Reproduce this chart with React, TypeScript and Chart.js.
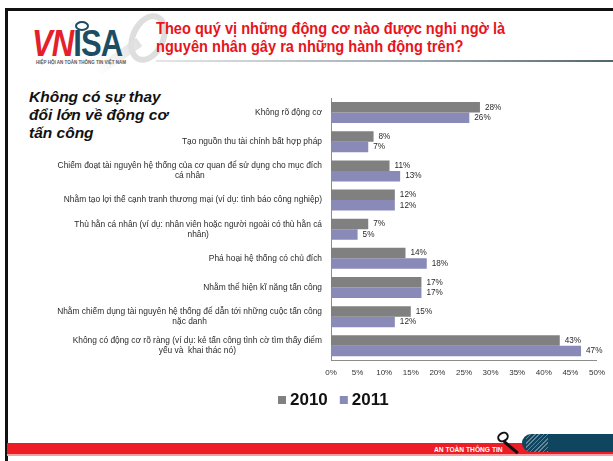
import React, { useEffect, useRef } from "react";
import { Chart, registerables } from "chart.js";

Chart.register(...registerables);

const FONT = "'Liberation Sans', Arial, sans-serif";

const categories: string[][] = [
  ["Không rõ động cơ"],
  ["Tạo nguồn thu tài chính bất hợp pháp"],
  ["Chiếm đoạt tài nguyên hệ thống của cơ quan để sử dụng cho mục đích", "cá nhân"],
  ["Nhằm tạo lợi thế cạnh tranh thương mại (ví dụ: tình báo công nghiệp)"],
  ["Thù hằn cá nhân (ví dụ: nhân viên hoặc người ngoài có thù hằn cá", "nhân)"],
  ["Phá hoại hệ thống có chủ đích"],
  ["Nhằm thể hiện kĩ năng tấn công"],
  ["Nhằm chiếm dụng tài nguyên hệ thống để dẫn tới những cuộc tấn công", "nặc danh"],
  ["Không có động cơ rõ ràng (ví dụ: kẻ tấn công tình cờ tìm thấy điểm", "yếu và  khai thác nó)"],
];

const series2010 = [28, 8, 11, 12, 7, 14, 17, 15, 43];
const series2011 = [26, 7, 13, 12, 5, 18, 17, 12, 47];
const seriesNames = ["2010", "2011"];
const seriesColors = ["#808080", "#8a8ab9"];
const axisMin = 0;
const axisMax = 50;
const axisStep = 5;

const catLabelPlugin = {
  id: "catLabels",
  afterDraw(chart: any) {
    const ctx = chart.ctx;
    const yScale = chart.scales.y;
    ctx.save();
    ctx.font = `8.4px ${FONT}`;
    ctx.fillStyle = "#2a2a2a";
    ctx.textBaseline = "middle";
    ctx.textAlign = "center";
    categories.forEach((lines, i) => {
      const cy = yScale.getPixelForValue(i);
      const maxW = Math.max(...lines.map((l) => ctx.measureText(l).width));
      const cx = chart.chartArea.left - 9 - maxW / 2;
      const lh = 10;
      lines.forEach((l, j) => {
        ctx.fillText(l, cx, cy + (j - (lines.length - 1) / 2) * lh);
      });
    });
    ctx.restore();
  },
};

const valueLabelPlugin = {
  id: "valueLabels",
  afterDatasetsDraw(chart: any) {
    const ctx = chart.ctx;
    ctx.save();
    ctx.font = `8.2px ${FONT}`;
    ctx.fillStyle = "#2a2a2a";
    ctx.textBaseline = "middle";
    ctx.textAlign = "left";
    chart.data.datasets.forEach((ds: any, di: number) => {
      const meta = chart.getDatasetMeta(di);
      meta.data.forEach((el: any, i: number) => {
        ctx.fillText(`${ds.data[i]}%`, el.x + 5, el.y);
      });
    });
    ctx.restore();
  },
};

const legendPlugin = {
  id: "customLegend",
  afterDraw(chart: any) {
    const ctx = chart.ctx;
    ctx.save();
    ctx.font = `bold 17px ${FONT}`;
    ctx.textBaseline = "middle";
    ctx.textAlign = "left";
    let x = 278;
    const y = 400;
    chart.data.datasets.forEach((ds: any) => {
      ctx.fillStyle = ds.backgroundColor;
      ctx.fillRect(x, y - 4, 8, 8);
      ctx.fillStyle = "#111";
      ctx.fillText(ds.label, x + 12, y);
      x += 12 + ctx.measureText(ds.label).width + 12;
    });
    ctx.restore();
  },
};

function ChartCanvas() {
  const ref = useRef<HTMLCanvasElement | null>(null);
  useEffect(() => {
    if (!ref.current) return;
    const chart = new Chart(ref.current, {
      type: "bar",
      data: {
        labels: categories.map((c) => c.join(" ")),
        datasets: [
          {
            label: seriesNames[0],
            data: series2010,
            backgroundColor: seriesColors[0],
            categoryPercentage: 0.72,
            barPercentage: 1,
          },
          {
            label: seriesNames[1],
            data: series2011,
            backgroundColor: seriesColors[1],
            categoryPercentage: 0.72,
            barPercentage: 1,
          },
        ],
      },
      options: {
        indexAxis: "y",
        animation: false,
        responsive: false,
        maintainAspectRatio: false,
        layout: { padding: { left: 331, top: 98, right: 13, bottom: 75 } },
        scales: {
          x: {
            min: axisMin,
            max: axisMax,
            ticks: {
              stepSize: axisStep,
              callback: (v: any) => `${v}%`,
              font: { size: 8, family: FONT },
              color: "#333",
              padding: 8,
              maxRotation: 0,
            },
            grid: { display: false, drawTicks: false },
            border: { color: "#8c8c8c", width: 1 },
          },
          y: {
            ticks: { display: false },
            grid: { display: false, drawTicks: false },
            border: { color: "#8c8c8c", width: 1 },
          },
        },
        plugins: {
          legend: { display: false },
          tooltip: { enabled: false },
        },
      } as any,
      plugins: [catLabelPlugin, valueLabelPlugin, legendPlugin],
    });
    return () => chart.destroy();
  }, []);
  return (
    <canvas
      ref={ref}
      width={613}
      height={461}
      style={{ position: "absolute", left: 0, top: 0, width: 613, height: 461 }}
    />
  );
}

export default function App() {
  return (
    <div style={{ position: "absolute", left: 0, top: 0, width: 613, height: 461, overflow: "hidden", background: "#fff", fontFamily: FONT }}>
      {/* frame */}
      <div style={{ position: "absolute", left: 5, top: 8, width: 608, height: 2.5, background: "#111" }} />
      <div style={{ position: "absolute", left: 5, top: 8, width: 2.5, height: 453, background: "#111" }} />
      {/* ghost key */}
      <div style={{ position: "absolute", left: 130, top: 12, width: 24, height: 40, border: "6px solid #dedede", borderRadius: "50%", transform: "rotate(25deg)" }} />
      <div style={{ position: "absolute", left: 92, top: 52, width: 52, height: 10, background: "linear-gradient(90deg, rgba(222,222,222,0), #e0e0e0)", transform: "rotate(-35deg)" }} />
      {/* logo */}
      <div style={{ position: "absolute", left: 32, top: 24, height: 40, whiteSpace: "nowrap", fontWeight: "bold", fontSize: 36, lineHeight: "40px", transform: "scaleX(0.86)", transformOrigin: "left top", letterSpacing: -1 }}>
        <span style={{ color: "#e4202a", fontStyle: "italic" }}>VN</span>
        <span style={{ color: "#1c4d63" }}>ISA</span>
      </div>
      <div style={{ position: "absolute", left: 75, top: 21, width: 10, height: 6, border: "2px solid #1c4d63", borderRadius: "50%" }} />
      <div style={{ position: "absolute", left: 36, top: 60, fontSize: 4.5, color: "#555", whiteSpace: "nowrap", fontWeight: "bold" }}>
        HIỆP HỘI AN TOÀN THÔNG TIN VIỆT NAM
      </div>
      {/* title */}
      <div style={{ position: "absolute", left: 156, top: 19, color: "#e8141c", fontWeight: "bold", fontSize: 16.5, lineHeight: "18px", whiteSpace: "nowrap", transform: "scaleX(0.885)", transformOrigin: "left top" }}>
        Theo quý vị những động cơ nào được nghi ngờ là
        <br />
        nguyên nhân gây ra những hành động trên?
      </div>
      <div style={{ position: "absolute", left: 156, top: 60, width: 457, height: 1.5, background: "linear-gradient(90deg, #e6e6e6, #9aa6ae 60%, #4f6572)" }} />
      {/* left heading */}
      <div style={{ position: "absolute", left: 29, top: 88, color: "#111", fontWeight: "bold", fontStyle: "italic", fontSize: 15.5, lineHeight: "18px", whiteSpace: "nowrap" }}>
        Không có sự thay
        <br />
        đổi lớn về động cơ
        <br />
        tấn công
      </div>
      <ChartCanvas />
      {/* footer */}
      <div style={{ position: "absolute", left: 7, top: 443, width: 606, height: 11, background: "#ee1c25" }} />
      <div style={{ position: "absolute", left: 7, top: 454, width: 606, height: 1.5, background: "#f7a0a3" }} />
      <div style={{ position: "absolute", left: 522, top: 434, width: 100, height: 18, background: "#0f455e", borderRadius: "9px 0 0 9px", overflow: "hidden" }}>
        <div style={{ position: "absolute", left: 4, top: -4, width: 22, height: 26, background: "repeating-linear-gradient(135deg, rgba(255,255,255,0.35) 0 1px, rgba(255,255,255,0) 1px 3px)" }} />
      </div>
      <div style={{ position: "absolute", left: 504, top: 440, width: 18, height: 3, background: "#111", transform: "rotate(40deg)", transformOrigin: "left center" }} />
      <div style={{ position: "absolute", left: 497, top: 432, width: 8, height: 6, border: "2px solid #111", borderRadius: "50%", background: "#fff", transform: "rotate(-30deg)" }} />
      <div style={{ position: "absolute", left: 434, top: 445, fontSize: 7, lineHeight: "9px", color: "#fff", fontWeight: "bold", whiteSpace: "nowrap", transform: "scaleX(0.95)", transformOrigin: "left top" }}>
        AN TOÀN THÔNG TIN
      </div>
    </div>
  );
}
